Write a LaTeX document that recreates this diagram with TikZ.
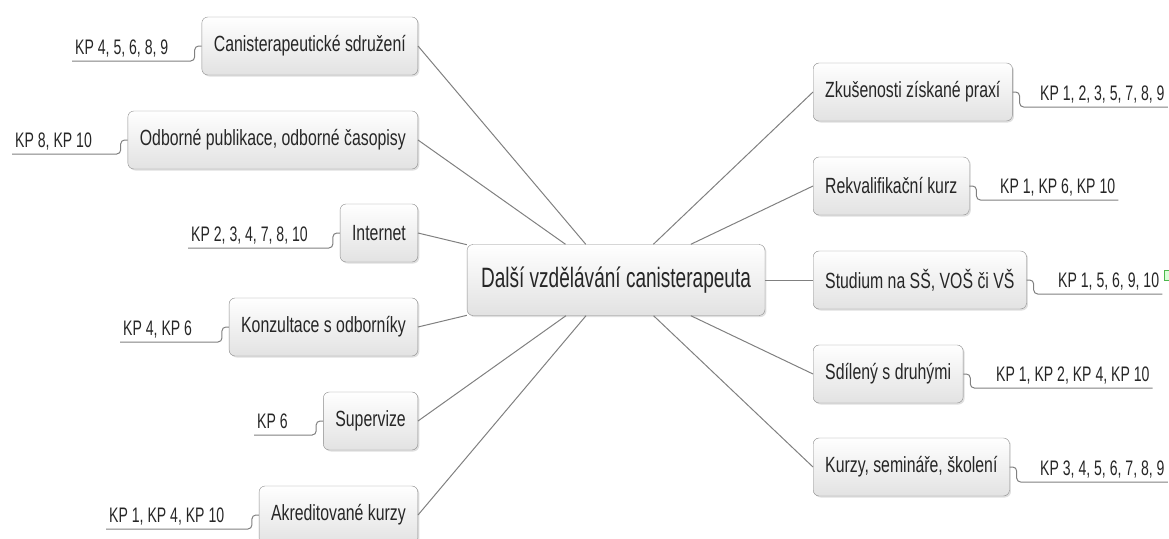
\documentclass[tikz,border=0pt]{standalone}
\usepackage{fontspec}
\setmainfont{Liberation Sans}[FakeStretch=0.72]
\newfontfamily\dvfont{Liberation Sans}[FakeStretch=0.68]
\newfontfamily\kpfont{Liberation Sans}[FakeStretch=0.67]
\usetikzlibrary{shadows}

\definecolor{boxline}{HTML}{8C8C8C}
\definecolor{boxfill}{HTML}{E2E2E2}
\definecolor{linkgray}{HTML}{808080}
\definecolor{txtgray}{HTML}{262626}

\tikzset{
  topic/.style={draw=boxline, rounded corners=6pt, top color=white, bottom color=boxfill,
    drop shadow={shadow xshift=1.5pt, shadow yshift=-1.5pt, opacity=0.25},
    text=txtgray, font=\fontsize{22}{24}\selectfont, minimum height=58pt, inner xsep=12pt},
  main/.style={topic, font=\dvfont\fontsize{28}{30}\selectfont, minimum height=71pt, inner xsep=14pt},
  kp/.style={text=txtgray, font=\kpfont\fontsize{21}{23}\selectfont, inner xsep=3pt, inner ysep=0pt,
    text depth=6.5pt},
  link/.style={draw=linkgray, line width=1pt},
  hook/.style={draw=linkgray, line width=1pt, rounded corners=4pt}
}

\begin{document}
\begin{tikzpicture}[x=1pt,y=-1pt]
  \useasboundingbox (0,0) rectangle (1169,538);

  \node[main] (dv) at (616,280) {Další vzdělávání canisterapeuta};

  % left side
  \node[topic,anchor=east] (canis) at (418,46)  {Canisterapeutické sdružení};
  \node[topic,anchor=east] (odb)   at (418,140) {Odborné publikace, odborné časopisy};
  \node[topic,anchor=east] (inet)  at (418,233) {Internet};
  \node[topic,anchor=east] (konz)  at (418,327) {Konzultace s odborníky};
  \node[topic,anchor=east] (superv) at (418,421) {Supervize};
  \node[topic,anchor=east] (akred) at (418,515) {Akreditované kurzy};

  % right side
  \node[topic,anchor=west] (zkus)  at (813,92)  {Zkušenosti získané praxí};
  \node[topic,anchor=west] (rekv)  at (813,186) {Rekvalifikační kurz};
  \node[topic,anchor=west] (stud)  at (813,280) {Studium na SŠ, VOŠ či VŠ};
  \node[topic,anchor=west] (sdil)  at (813,374) {Sdílený s druhými};
  \node[topic,anchor=west] (kurzy) at (813,467) {Kurzy, semináře, školení};

  \foreach \n in {canis,odb,inet,konz,superv,akred}
    \path[link] (dv) -- (\n.east);
  \foreach \n in {zkus,rekv,stud,sdil,kurzy}
    \path[link] (dv) -- (\n.west);

  % KP labels
  \node[kp,anchor=south west] (kpcanis)  at (72,61)   {KP 4, 5, 6, 8, 9};
  \node[kp,anchor=south west] (kpodb)    at (12,154)  {KP 8, KP 10};
  \node[kp,anchor=south west] (kpinet)   at (188,248) {KP 2, 3, 4, 7, 8, 10};
  \node[kp,anchor=south west] (kpkonz)   at (120,342) {KP 4, KP 6};
  \node[kp,anchor=south west] (kpsuperv) at (254,435) {KP 6};
  \node[kp,anchor=south west] (kpakred)  at (106,529) {KP 1, KP 4, KP 10};

  \node[kp,anchor=south west] (kpzkus)  at (1037,107) {KP 1, 2, 3, 5, 7, 8, 9};
  \node[kp,anchor=south west] (kprekv)  at (997,200)  {KP 1, KP 6, KP 10};
  \node[kp,anchor=south west] (kpstud)  at (1055,294) {KP 1, 5, 6, 9, 10};
  \node[kp,anchor=south west] (kpsdil)  at (993,388)  {KP 1, KP 2, KP 4, KP 10};
  \node[kp,anchor=south west] (kpkurzy) at (1037,482) {KP 3, 4, 5, 6, 7, 8, 9};

  \foreach \n in {canis,odb,inet,konz,superv,akred}
    \path[hook] (\n.west) -- ++(-7,0) |- (kp\n.south west);
  \foreach \n in {zkus,rekv,stud,sdil,kurzy}
    \path[hook] (\n.east) -- ++(7,0) |- (kp\n.south east);

  \draw[draw=green!60!black!70, fill=green!15, line width=0.6pt] (1164.5,270.5) rectangle (1171,280);
\end{tikzpicture}
\end{document}
